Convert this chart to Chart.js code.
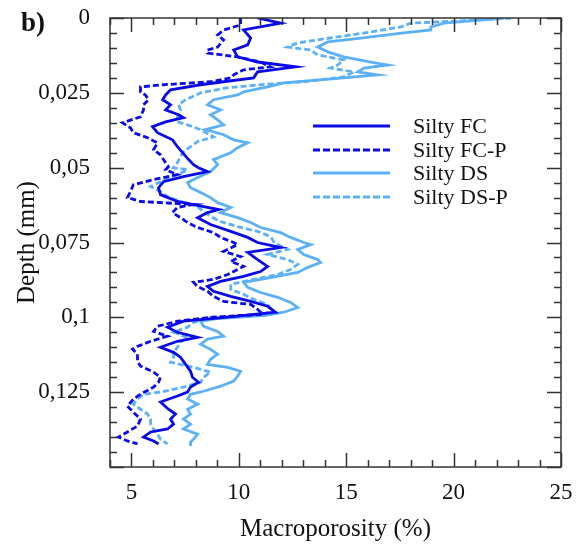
<!DOCTYPE html>
<html><head><meta charset="utf-8">
<script src="https://cdn.jsdelivr.net/npm/chart.js@4.4.0/dist/chart.umd.min.js"></script>
<style>html,body{margin:0;padding:0;background:#fff;}canvas{display:block;}</style>
</head><body>
<canvas id="c" width="582" height="550"></canvas>
<script>
const seriesNames = ['Silty FC', 'Silty FC-P', 'Silty DS', 'Silty DS-P'];

const fcDepth = [0,0.0017,0.004,0.0067,0.009,0.0107,0.013,0.0147,0.0163,0.018,0.02,0.0213,0.0223,0.024,0.0257,0.0273,0.029,0.0307,0.0323,0.0333,0.0347,0.0363,0.0383,0.0407,0.043,0.045,0.0473,0.049,0.05,0.0513,0.053,0.0547,0.0567,0.059,0.0613,0.063,0.064,0.065,0.0667,0.069,0.0713,0.0733,0.075,0.0767,0.0783,0.0807,0.083,0.0847,0.0863,0.088,0.0897,0.0913,0.093,0.0947,0.0963,0.0983,0.1,0.1013,0.1033,0.105,0.1067,0.108,0.11,0.1117,0.1133,0.1157,0.118,0.12,0.1217,0.1233,0.125,0.1263,0.1283,0.1307,0.1323,0.134,0.1357,0.1373,0.1383,0.14,0.1413,0.1423];
const fcPor = [10.87,11.95,10.22,10.55,10.41,9.76,9.94,10.87,12.65,10.87,10.69,9.29,8.22,6.82,6.59,6.45,6.82,6.59,7.19,7.42,6.59,5.98,6.21,6.91,7.14,7.38,7.66,7.89,8.12,8.54,7.42,6.49,6.26,6.35,7.14,8.36,9.06,8.54,8.08,8.68,9.62,10.41,10.87,11.95,10.41,10.87,11.34,11.01,10.22,9.15,8.54,8.82,9.62,10.55,11.34,11.71,9.38,7.42,6.68,7.14,8.08,7.14,6.35,6.96,7.28,7.52,7.75,7.84,8.12,7.75,7.61,7.14,6.35,6.72,7.05,6.82,6.96,6.68,5.89,5.56,6.03,6.26];

const fcpDepth = [0,0.0023,0.004,0.0057,0.0073,0.0097,0.0107,0.0117,0.013,0.0147,0.0163,0.0173,0.019,0.02,0.0213,0.0223,0.023,0.0247,0.0257,0.0273,0.029,0.0307,0.033,0.035,0.0367,0.0383,0.04,0.0417,0.044,0.0457,0.0473,0.0497,0.0507,0.0523,0.054,0.0557,0.058,0.06,0.0613,0.0623,0.0633,0.065,0.0667,0.0683,0.07,0.0717,0.0733,0.075,0.0757,0.078,0.0797,0.0813,0.083,0.084,0.0857,0.0873,0.0883,0.0897,0.0913,0.093,0.0947,0.0957,0.0973,0.099,0.1,0.1013,0.103,0.1047,0.1063,0.108,0.1097,0.1107,0.1123,0.1147,0.1163,0.1183,0.12,0.1217,0.1233,0.1257,0.1273,0.1297,0.1317,0.134,0.1363,0.1383,0.14,0.1413,0.1423];
const fcpPor = [10.08,10.08,9.29,9.01,9.29,9.01,8.54,8.54,9.94,11.01,11.48,10.22,9.76,9.62,8.68,6.49,5.42,5.42,5.65,5.79,5.56,5.56,5.42,4.58,4.95,5.09,5.75,6.21,6.03,6.35,6.49,6.72,6.59,7.14,6.03,5.09,4.95,4.81,5.42,7.89,7.14,6.91,7.28,7.61,8.08,8.82,9.15,9.76,9.94,9.29,10.08,9.62,10.22,9.94,9.48,8.82,7.89,8.08,8.54,8.82,9.29,10.55,10.87,11.11,8.68,7.14,6.21,6.03,6.68,5.89,5.28,5.05,5.28,5.28,5.42,6.03,6.35,6.26,6.03,5.42,5.09,4.81,5.09,5.42,5.28,4.81,4.39,4.81,5.28];

const dsDepth = [0,0.0017,0.003,0.004,0.005,0.0067,0.008,0.0097,0.0113,0.013,0.0147,0.0157,0.0167,0.018,0.019,0.02,0.0217,0.023,0.0247,0.0257,0.0273,0.029,0.0307,0.0323,0.034,0.0357,0.0373,0.039,0.0407,0.0417,0.0433,0.045,0.0473,0.049,0.0513,0.0533,0.055,0.0567,0.0583,0.06,0.0617,0.0633,0.065,0.0667,0.0683,0.07,0.0717,0.0733,0.075,0.0757,0.0773,0.079,0.0807,0.0817,0.0833,0.085,0.0867,0.0883,0.09,0.0917,0.0933,0.095,0.0967,0.0983,0.0993,0.1003,0.1013,0.103,0.1047,0.1063,0.1073,0.109,0.1107,0.1123,0.114,0.1157,0.1167,0.118,0.1197,0.1213,0.123,0.1247,0.1257,0.1273,0.129,0.1307,0.1323,0.134,0.1357,0.1373,0.139,0.1407,0.1417,0.143];
const dsPor = [22.34,19.55,18.94,18.94,17.68,15.68,14.14,13.67,14.14,14.88,16.14,16.93,15.82,15.54,16.47,14.88,12.09,11.34,10.22,9.94,8.82,8.54,9.15,8.68,9.01,9.29,8.45,9.29,9.76,10.41,9.94,9.62,8.82,9.01,8.68,8.08,7.61,7.75,8.22,8.68,9.01,9.62,9.15,9.94,10.55,11.01,11.95,12.41,13.02,13.35,12.74,13.02,13.67,13.81,13.21,12.74,11.48,10.22,10.41,11.01,11.81,12.41,12.74,12.09,11.25,9.15,8.22,8.36,9.01,9.29,8.54,8.22,8.68,9.01,8.68,8.54,9.48,10.08,9.94,9.76,9.15,8.36,7.75,7.61,8.08,7.61,7.75,7.42,7.75,7.42,8.08,7.89,7.75,7.75];

const dspDepth = [0,0.0007,0.0017,0.003,0.0047,0.0063,0.0083,0.0097,0.0107,0.0123,0.014,0.0157,0.0167,0.018,0.0197,0.0213,0.0223,0.0233,0.025,0.0273,0.029,0.0307,0.033,0.0347,0.0357,0.0373,0.0397,0.0413,0.043,0.0447,0.0463,0.0483,0.05,0.0507,0.0523,0.0547,0.0563,0.058,0.0597,0.0613,0.063,0.0647,0.0663,0.068,0.0697,0.0713,0.073,0.0747,0.0757,0.0773,0.079,0.0807,0.0823,0.084,0.0857,0.0873,0.089,0.0907,0.0923,0.094,0.0957,0.0973,0.099,0.1,0.1017,0.1033,0.105,0.1067,0.1083,0.11,0.1117,0.1133,0.115,0.1167,0.1183,0.12,0.1217,0.1233,0.125,0.1257,0.1273,0.129,0.1307,0.1323,0.134,0.1357,0.1373,0.139,0.1407,0.1423];
const dspPor = [22.67,21.13,18.01,17.54,16.14,14.60,12.74,12.27,13.35,13.67,14.88,14.60,14.28,15.35,14.88,13.02,11.01,9.48,8.22,7.52,7.19,7.28,7.14,7.14,7.61,8.22,8.82,8.08,7.75,7.42,7.28,7.14,6.96,7.61,7.14,6.35,5.89,6.35,6.68,7.28,8.08,8.36,8.68,9.15,9.94,10.87,11.48,11.62,11.81,12.27,11.34,12.27,12.74,12.41,11.81,10.69,9.62,9.62,10.22,10.69,11.34,11.48,11.25,8.68,7.89,7.61,6.96,7.61,7.28,7.14,6.96,6.96,6.82,7.89,8.68,8.36,8.22,7.42,6.35,5.56,5.28,5.09,5.42,5.75,5.89,5.89,6.03,6.21,6.35,6.68];

const xTickValues = [5, 10, 15, 20, 25];
const yTickValues = [0, 0.025, 0.05, 0.075, 0.1, 0.125];
const yTickLabels = ['0', '0,025', '0,05', '0,075', '0,1', '0,125'];

const DARK = '#0a0ae8';
const LIGHT = '#5cb0f8';
const SERIF = "'Liberation Serif', 'DejaVu Serif', serif";

function pts(depth, por) {
  const n = Math.min(depth.length, por.length);
  const out = [];
  for (let i = 0; i < n; i++) out.push({ x: por[i], y: depth[i] });
  return out;
}

const styles = [
  { color: DARK, dash: [] },
  { color: DARK, dash: [6, 3] },
  { color: LIGHT, dash: [] },
  { color: LIGHT, dash: [6, 3] }
];
const dataPairs = [[fcDepth, fcPor], [fcpDepth, fcpPor], [dsDepth, dsPor], [dspDepth, dspPor]];

const datasets = seriesNames.map((name, i) => ({
  label: name,
  data: pts(dataPairs[i][0], dataPairs[i][1]),
  showLine: true,
  borderColor: styles[i].color,
  backgroundColor: styles[i].color,
  borderDash: styles[i].dash,
  borderWidth: 2.8,
  pointRadius: 0,
  tension: 0,
  fill: false
}));

const framePlugin = {
  id: 'frame',
  afterDatasetsDraw(chart) {
    const ctx = chart.ctx;
    const a = chart.chartArea;
    const xs = chart.scales.x, ys = chart.scales.y;
    ctx.save();
    ctx.strokeStyle = '#333';
    ctx.lineWidth = 1.5;
    ctx.setLineDash([]);
    ctx.strokeRect(a.left, a.top, a.right - a.left, a.bottom - a.top);
    ctx.beginPath();
    for (let v = Math.ceil(xs.min); v <= xs.max; v++) {
      const px = Math.round(xs.getPixelForValue(v)) + 0.5;
      const len = v % 5 === 0 ? 14 : 7;
      ctx.moveTo(px, a.bottom); ctx.lineTo(px, a.bottom - len);
      ctx.moveTo(px, a.top); ctx.lineTo(px, a.top + len);
    }
    for (let i = 0; i * 0.005 <= ys.max + 1e-9; i++) {
      const py = Math.round(ys.getPixelForValue(i * 0.005)) + 0.5;
      const len = i % 5 === 0 ? 14 : 7;
      ctx.moveTo(a.left, py); ctx.lineTo(a.left + len, py);
      ctx.moveTo(a.right, py); ctx.lineTo(a.right - len, py);
    }
    ctx.stroke();
    ctx.restore();
  },
  afterDraw(chart) {
    const ctx = chart.ctx;
    const a = chart.chartArea;
    ctx.save();
    const rows = [126, 150, 173, 197];
    chart.data.datasets.forEach((ds, i) => {
      const y = rows[i];
      ctx.strokeStyle = ds.borderColor;
      ctx.lineWidth = 3;
      ctx.setLineDash(ds.borderDash.length ? [7, 3] : []);
      ctx.beginPath();
      ctx.moveTo(a.left + 203, y);
      ctx.lineTo(a.left + 280, y);
      ctx.stroke();
      ctx.setLineDash([]);
      ctx.fillStyle = '#111';
      ctx.font = '22px ' + SERIF;
      ctx.textAlign = 'left';
      ctx.textBaseline = 'middle';
      ctx.fillText(ds.label, a.left + 303, y + 1);
    });
    ctx.fillStyle = '#111';
    ctx.font = 'bold 27px ' + SERIF;
    ctx.textAlign = 'left';
    ctx.textBaseline = 'middle';
    ctx.fillText('b)', 21, 24);
    ctx.restore();
  }
};

new Chart(document.getElementById('c'), {
  type: 'scatter',
  data: { datasets },
  options: {
    responsive: false,
    animation: false,
    devicePixelRatio: 1,
    layout: { padding: { left: 0, right: 21, top: 18, bottom: 0 } },
    plugins: { legend: { display: false }, tooltip: { enabled: false } },
    scales: {
      x: {
        type: 'linear', min: 4, max: 25,
        afterBuildTicks: s => { s.ticks = xTickValues.map(v => ({ value: v })); },
        afterFit: s => { s.height = 83; s.paddingLeft = 0; s.paddingRight = 0; },
        grid: { display: false, drawTicks: false },
        border: { display: false },
        ticks: { padding: 12, color: '#111', font: { family: SERIF, size: 23 }, maxRotation: 0 },
        title: { display: true, text: 'Macroporosity (%)', color: '#111', font: { family: SERIF, size: 25 }, padding: { top: 0, bottom: 6 } }
      },
      y: {
        type: 'linear', min: 0, max: 0.15, reverse: true,
        afterBuildTicks: s => { s.ticks = yTickValues.map(v => ({ value: v })); },
        afterFit: s => { s.width = 110; s.paddingTop = 0; s.paddingBottom = 0; },
        grid: { display: false, drawTicks: false },
        border: { display: false },
        ticks: { padding: 20, color: '#111', font: { family: SERIF, size: 23 }, callback: (v, i) => yTickLabels[i] },
        title: { display: true, text: 'Depth (mm)', color: '#111', font: { family: SERIF, size: 25 }, padding: { top: 12, bottom: 0 } }
      }
    }
  },
  plugins: [framePlugin]
});
</script>
</body></html>
